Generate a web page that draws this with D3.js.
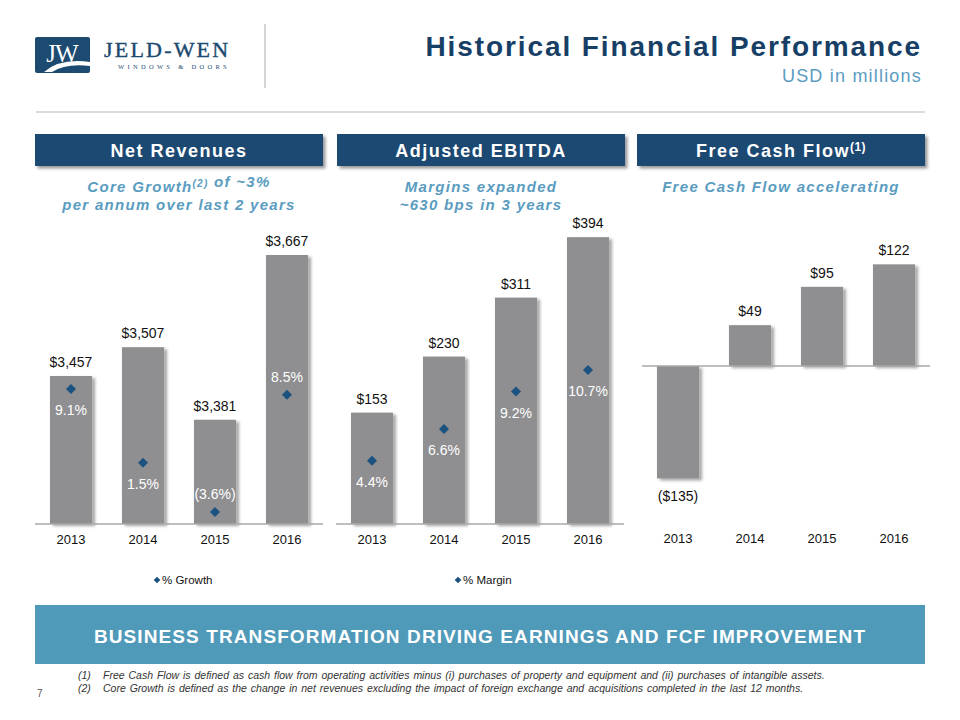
<!DOCTYPE html>
<html>
<head>
<meta charset="utf-8">
<script src="https://cdn.jsdelivr.net/npm/d3@7"></script>
<style>
  html, body { margin: 0; padding: 0; background: #fff; }
  svg { display: block; font-family: Arial, "Liberation Sans", sans-serif; }
</style>
</head>
<body>
<svg id="chart" width="960" height="720"></svg>
<script>
// ---------------- DATA ----------------
const years = ["2013", "2014", "2015", "2016"];
const netRevenues = [3457, 3507, 3381, 3667];
const netGrowth = [9.1, 1.5, -3.6, 8.5];
const netRevenueLabels = ["$3,457", "$3,507", "$3,381", "$3,667"];
const netGrowthLabels = ["9.1%", "1.5%", "(3.6%)", "8.5%"];
const ebitda = [153, 230, 311, 394];
const ebitdaMargin = [4.4, 6.6, 9.2, 10.7];
const ebitdaLabels = ["$153", "$230", "$311", "$394"];
const ebitdaMarginLabels = ["4.4%", "6.6%", "9.2%", "10.7%"];
const freeCashFlow = [-135, 49, 95, 122];
const fcfLabels = ["($135)", "$49", "$95", "$122"];
const panelTitles = ["Net Revenues", "Adjusted EBITDA", "Free Cash Flow"];
const legendNames = ["% Growth", "% Margin"];

// ---------------- SETUP ----------------
const svg = d3.select("#chart");
const FONT = "Arial, 'Liberation Sans', sans-serif";
const SERIF = "'Liberation Serif', 'DejaVu Serif', serif";
const C = {
  navy: "#1d4872", title: "#173f66", sub: "#5a9cbf", bar: "#8f8f91",
  axis: "#a9a9a9", diamond: "#1b5280", banner: "#4f99b9"
};

const defs = svg.append("defs");
const sh = defs.append("filter").attr("id", "shadow").attr("x", "-20%").attr("y", "-20%").attr("width", "150%").attr("height", "150%");
sh.append("feDropShadow").attr("dx", 3).attr("dy", 2).attr("stdDeviation", 1.6)
  .attr("flood-color", "#000").attr("flood-opacity", 0.35);
const sh2 = defs.append("filter").attr("id", "boxshadow").attr("x", "-10%").attr("y", "-30%").attr("width", "120%").attr("height", "180%");
sh2.append("feDropShadow").attr("dx", 2.5).attr("dy", 2.5).attr("stdDeviation", 1.5)
  .attr("flood-color", "#000").attr("flood-opacity", 0.4);

// ---------------- HEADER ----------------
const logo = svg.append("g");
logo.append("rect").attr("x", 35).attr("y", 37).attr("width", 55).attr("height", 36).attr("rx", 2).attr("fill", "#1c4a70");
logo.append("text").attr("x", 62).attr("y", 62).attr("text-anchor", "middle")
  .attr("font-family", SERIF).attr("font-size", 25)
  .attr("fill", "#fff").attr("letter-spacing", -1).text("JW");
logo.append("path").attr("d", "M44,72 Q60,58 90,62 L90,66 Q66,63 52,72 Z").attr("fill", "#fff");
logo.append("text").attr("x", 104).attr("y", 57)
  .attr("font-family", SERIF).attr("font-size", 22)
  .attr("fill", "#1c4a70").attr("letter-spacing", 2.2).attr("stroke", "#1c4a70").attr("stroke-width", 0.4).text("JELD-WEN");
logo.append("text").attr("x", 118).attr("y", 69)
  .attr("font-family", SERIF).attr("font-size", 6.5)
  .attr("fill", "#1c4a70").attr("letter-spacing", 3.3).text("WINDOWS & DOORS");

svg.append("line").attr("x1", 265).attr("x2", 265).attr("y1", 24).attr("y2", 88)
  .attr("stroke", "#c8c8c8").attr("stroke-width", 1.5);
svg.append("line").attr("x1", 36).attr("x2", 925).attr("y1", 112).attr("y2", 112)
  .attr("stroke", "#cfcfcf").attr("stroke-width", 1.5);

svg.append("text").attr("x", 922).attr("y", 56).attr("text-anchor", "end")
  .attr("font-family", FONT).attr("font-weight", "bold").attr("font-size", 28)
  .attr("letter-spacing", 1.9).attr("fill", C.title).text("Historical Financial Performance");
svg.append("text").attr("x", 922).attr("y", 82).attr("text-anchor", "end")
  .attr("font-family", FONT).attr("font-size", 18)
  .attr("letter-spacing", 1.2).attr("fill", C.sub).text("USD in millions");

// ---------------- PANELS ----------------
const panels = [
  { x0: 35, x1: 323, sub: [["Core Growth", "(2)", " of ~3%"], ["per annum over last 2 years"]] },
  { x0: 337, x1: 625, sub: [["Margins expanded"], ["~630 bps in 3 years"]] },
  { x0: 637, x1: 925, sub: [["Free Cash Flow accelerating"]] }
];

panels.forEach((p, i) => {
  const cx = (p.x0 + p.x1) / 2;
  svg.append("rect").attr("x", p.x0).attr("y", 134).attr("width", p.x1 - p.x0).attr("height", 32)
    .attr("fill", C.navy).attr("filter", "url(#boxshadow)");
  const t = svg.append("text").attr("x", cx).attr("y", 157).attr("text-anchor", "middle")
    .attr("font-family", FONT).attr("font-weight", "bold").attr("font-size", 18)
    .attr("letter-spacing", 1.5).attr("fill", "#fff");
  t.append("tspan").text(panelTitles[i]);
  if (i === 2) {
    t.append("tspan").attr("font-size", 12).attr("dy", -6).attr("letter-spacing", 0.5).text("(1)");
  }
  p.sub.forEach((line, j) => {
    const st = svg.append("text").attr("x", cx).attr("y", 192 + j * 18).attr("text-anchor", "middle")
      .attr("font-family", FONT).attr("font-weight", "bold").attr("font-style", "italic")
      .attr("font-size", 15).attr("letter-spacing", 1.3).attr("fill", C.sub);
    line.forEach(seg => {
      if (seg.startsWith("(")) {
        st.append("tspan").attr("font-size", 10).attr("dy", -5).text(seg);
        st.append("tspan").attr("dy", 5).text("");
      } else {
        st.append("tspan").text(seg);
      }
    });
  });
});

function xBand(x0, x1) {
  return d3.scaleBand().domain(years).range([x0, x1]).paddingInner(0).paddingOuter(0);
}
const BAR_FRAC = 0.585;

function drawBars(g, x, y, values, base) {
  const bw = x.step() * BAR_FRAC;
  g.selectAll("rect.bar").data(values).join("rect").attr("class", "bar")
    .attr("x", (d, i) => x(years[i]) + x.step() / 2 - bw / 2)
    .attr("width", bw)
    .attr("y", d => Math.min(y(d), y(base)))
    .attr("height", d => Math.abs(y(d) - y(base)))
    .attr("fill", C.bar).attr("filter", "url(#shadow)");
}
function drawAxis(g, x, yPos, labelY) {
  const r = x.range();
  g.append("line").attr("x1", r[0]).attr("x2", r[1]).attr("y1", yPos).attr("y2", yPos)
    .attr("stroke", C.axis).attr("stroke-width", 1.5);
  const ax = d3.axisBottom(x).tickSize(0).tickPadding(0);
  const ag = g.append("g").attr("transform", `translate(0,${labelY})`).call(ax);
  ag.select(".domain").remove();
  ag.selectAll("text").attr("font-family", FONT).attr("font-size", 13).attr("fill", "#111").attr("dy", 0);
}
function valueLabels(g, x, y, values, labels, base) {
  g.selectAll("text.val").data(values).join("text").attr("class", "val")
    .attr("x", (d, i) => x(years[i]) + x.step() / 2)
    .attr("y", d => d >= base ? y(d) - 9 : y(d) + 22)
    .attr("text-anchor", "middle").attr("font-family", FONT).attr("font-size", 14).attr("fill", "#111")
    .text((d, i) => labels[i]);
}
const diamond = d3.symbol().type(d3.symbolSquare).size(50);
function drawDiamonds(g, x, y, values, labels, sides) {
  g.selectAll("path.dia").data(values).join("path").attr("class", "dia")
    .attr("d", diamond)
    .attr("transform", (d, i) => `translate(${x(years[i]) + x.step() / 2},${y(d)}) rotate(45)`)
    .attr("fill", C.diamond);
  g.selectAll("text.pct").data(values).join("text").attr("class", "pct")
    .attr("x", (d, i) => x(years[i]) + x.step() / 2)
    .attr("y", (d, i) => sides[i] === "below" ? y(d) + 26 : y(d) - 13)
    .attr("text-anchor", "middle").attr("font-family", FONT).attr("font-size", 14).attr("fill", "#fff")
    .text((d, i) => labels[i]);
}
function legend(g, cx, label) {
  const lg = g.append("g").attr("transform", `translate(${cx},580)`);
  lg.append("path").attr("d", d3.symbol().type(d3.symbolSquare).size(22)).attr("transform", "rotate(45)").attr("fill", C.diamond);
  lg.append("text").attr("x", 5).attr("y", 4).attr("font-family", FONT).attr("font-size", 11.5).attr("fill", "#111").text(label);
}

// Panel 1: Net revenues
{
  const g = svg.append("g");
  const x = xBand(35, 323);
  const y = d3.scaleLinear().domain([3200, 3700]).range([524, 236]);
  const y2 = d3.scaleLinear().domain([-5, 10]).range([525.6, 380.3]);
  drawBars(g, x, y, netRevenues, 3200);
  drawAxis(g, x, 524, 544);
  valueLabels(g, x, y, netRevenues, netRevenueLabels, 3200);
  drawDiamonds(g, x, y2, netGrowth, netGrowthLabels, ["below", "below", "above", "above"]);
  legend(g, 157, legendNames[0]);
}
// Panel 2: EBITDA
{
  const g = svg.append("g");
  const x = xBand(336, 624);
  const y = d3.scaleLinear().domain([0, 400]).range([524, 232.8]);
  const y2 = d3.scaleLinear().domain([0, 12]).range([524, 351.2]);
  drawBars(g, x, y, ebitda, 0);
  drawAxis(g, x, 524, 544);
  valueLabels(g, x, y, ebitda, ebitdaLabels, 0);
  drawDiamonds(g, x, y2, ebitdaMargin, ebitdaMarginLabels, ["below", "below", "below", "below"]);
  legend(g, 458, legendNames[1]);
}
// Panel 3: FCF
{
  const g = svg.append("g");
  const x = xBand(642, 930);
  const y = d3.scaleLinear().domain([-150, 150]).range([491, 241]);
  drawBars(g, x, y, freeCashFlow, 0);
  drawAxis(g, x, 366, 543);
  valueLabels(g, x, y, freeCashFlow, fcfLabels, 0);
}

// ---------------- BANNER & FOOTNOTES ----------------
svg.append("rect").attr("x", 35).attr("y", 605).attr("width", 890).attr("height", 59).attr("fill", C.banner);
svg.append("text").attr("x", 480).attr("y", 643).attr("text-anchor", "middle")
  .attr("font-family", FONT).attr("font-weight", "bold").attr("font-size", 19)
  .attr("letter-spacing", 1.1).attr("fill", "#fff")
  .text("BUSINESS TRANSFORMATION DRIVING EARNINGS AND FCF IMPROVEMENT");

const notes = [
  ["(1)", "Free Cash Flow is defined as cash flow from operating activities minus (i) purchases of property and equipment and (ii) purchases of intangible assets."],
  ["(2)", "Core Growth is defined as the change in net revenues excluding the impact of foreign exchange and acquisitions completed in the last 12 months."]
];
notes.forEach((n, i) => {
  svg.append("text").attr("x", 78).attr("y", 679 + i * 13).attr("font-family", FONT)
    .attr("font-style", "italic").attr("font-size", 10.5).attr("fill", "#333").text(n[0]);
  svg.append("text").attr("x", 103).attr("y", 679 + i * 13).attr("font-family", FONT)
    .attr("font-style", "italic").attr("font-size", 10.5).attr("word-spacing", 1).attr("fill", "#333").text(n[1]);
});
svg.append("text").attr("x", 37).attr("y", 697).attr("font-family", FONT)
  .attr("font-size", 10).attr("fill", "#555").text("7");
</script>
</body>
</html>
